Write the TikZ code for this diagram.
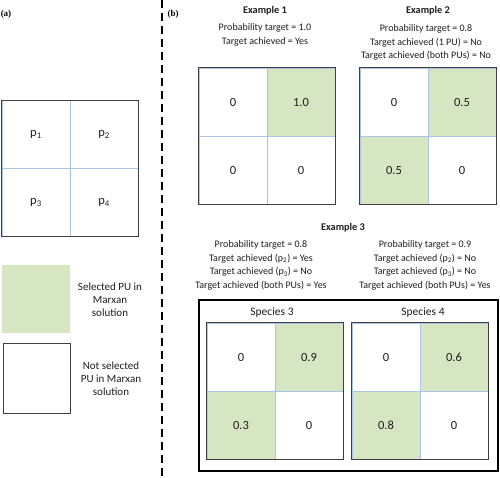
\documentclass[tikz,border=0pt]{standalone}
\usepackage{fontspec}
\setmainfont{Carlito}
\newfontfamily\tnr{Liberation Serif}
\definecolor{selgreen}{HTML}{D6E6C2}
\definecolor{gridblue}{HTML}{A9C4E4}
\definecolor{bordergray}{HTML}{404040}
\definecolor{txtcol}{HTML}{1E1E1E}
\begin{document}
\begin{tikzpicture}[x=1pt,y=-1pt,
  cell/.style={minimum width=68pt,minimum height=68pt,inner sep=0pt,draw=gridblue,line width=0.6pt,text=txtcol,font=\fontsize{12.5}{14}\selectfont},
  sel/.style={cell,fill=selgreen},
  gridborder/.style={draw=bordergray,line width=0.9pt},
  txt/.style={font=\fontsize{10}{13.6}\selectfont,align=center,inner sep=0pt,text=txtcol},
  legtxt/.style={txt,font=\fontsize{11}{13}\selectfont},
  ttl/.style={font=\bfseries\fontsize{10.3}{12}\selectfont,inner sep=0pt,text=txtcol},
  panel/.style={font=\tnr\bfseries\fontsize{9}{11}\selectfont,inner sep=0pt},
  divider/.style={dashed,dash pattern=on 8pt off 5pt,line width=1.4pt}]
\useasboundingbox (0,0) rectangle (500,477);

% panel labels and divider
\node[panel] (pa) at (6,14) {(a)};
\node[panel] (pb) at (173,14) {(b)};
\coordinate (dtop) at (162,0);
\coordinate (dbot) at (162,477);
\draw[divider] (dtop) -- (dbot);

% (a) grid
\node[cell] (a11) at (36,134.5) {p\textsubscript{1}};
\node[cell] (a12) at (104,134.5) {p\textsubscript{2}};
\node[cell] (a21) at (36,202.5) {p\textsubscript{3}};
\node[cell] (a22) at (104,202.5) {p\textsubscript{4}};
\draw[gridborder] (a11.north west) rectangle (a22.south east);

% legend
\node[minimum width=68pt,minimum height=68pt,inner sep=0pt,fill=selgreen] (lgsel) at (36,299) {};
\node[legtxt] (lgseltxt) at (110,300) {Selected PU in\\Marxan\\solution};
\node[minimum width=67pt,minimum height=70pt,inner sep=0pt,gridborder] (lgnot) at (36.5,378) {};
\node[legtxt] (lgnottxt) at (111,379) {Not selected\\PU in Marxan\\solution};

% Example 1
\node[ttl] (e1t) at (265,11) {Example 1};
\node[txt] (e1txt) at (265,35) {Probability target = 1.0\\Target achieved = Yes};
\node[cell] (e111) at (233,102) {0};
\node[sel] (e112) at (301,102) {1.0};
\node[cell] (e121) at (233,170) {0};
\node[cell] (e122) at (301,170) {0};
\draw[gridborder] (e111.north west) rectangle (e122.south east);

% Example 2
\node[ttl] (e2t) at (428,11) {Example 2};
\node[txt] (e2txt) at (426,42.5) {Probability target = 0.8\\Target achieved (1 PU) = No\\Target achieved (both PUs) = No};
\node[cell] (e211) at (394,102) {0};
\node[sel] (e212) at (462,102) {0.5};
\node[sel] (e221) at (394,170) {0.5};
\node[cell] (e222) at (462,170) {0};
\draw[gridborder] (e211.north west) rectangle (e222.south east);

% Example 3
\node[ttl] (e3t) at (343,228) {Example 3};
\node[txt] (e3l) at (261,265.5) {Probability target = 0.8\\Target achieved (p\textsubscript{2}) = Yes\\Target achieved (p\textsubscript{3}) = No\\Target achieved (both PUs) = Yes};
\node[txt] (e3r) at (425,265.5) {Probability target = 0.9\\Target achieved (p\textsubscript{2}) = No\\Target achieved (p\textsubscript{3}) = No\\Target achieved (both PUs) = Yes};
\coordinate (boxtl) at (199,300);
\coordinate (boxbr) at (498,471);
\draw[line width=1.8pt] (boxtl) rectangle (boxbr);

\node[txt,font=\fontsize{11.5}{13}\selectfont] (s3t) at (272,312) {Species 3};
\node[cell] (s311) at (241,357) {0};
\node[sel] (s312) at (309,357) {0.9};
\node[sel] (s321) at (241,425) {0.3};
\node[cell] (s322) at (309,425) {0};
\draw[gridborder] (s311.north west) rectangle (s322.south east);

\node[txt,font=\fontsize{11.5}{13}\selectfont] (s4t) at (423,312) {Species 4};
\node[cell] (s411) at (386,357) {0};
\node[sel] (s412) at (454,357) {0.6};
\node[sel] (s421) at (386,425) {0.8};
\node[cell] (s422) at (454,425) {0};
\draw[gridborder] (s411.north west) rectangle (s422.south east);
\end{tikzpicture}
\end{document}
